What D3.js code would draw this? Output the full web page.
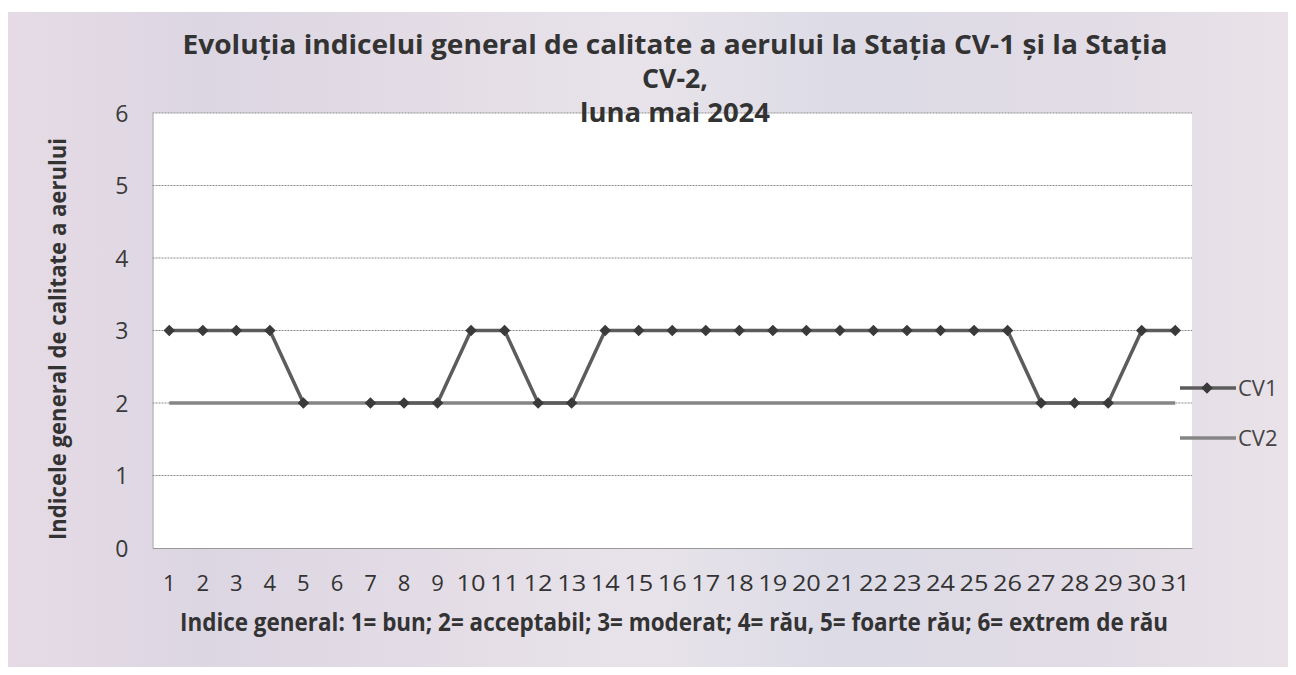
<!DOCTYPE html>
<html><head><meta charset="utf-8">
<script src="https://cdn.jsdelivr.net/npm/d3@7"></script>
<style>body{margin:0;background:#fff;}svg{display:block;}</style>
</head><body>
<svg id="c" width="1296" height="675"></svg>
<script>
const days = d3.range(1, 32).map(String);
const cv1 = [3,3,3,3,2,null,2,2,2,3,3,2,2,3,3,3,3,3,3,3,3,3,3,3,3,3,2,2,2,3,3];
const cv2 = [2,2,2,2,2,2,2,2,2,2,2,2,2,2,2,2,2,2,2,2,2,2,2,2,2,2,2,2,2,2,2];
const yTicks = [0,1,2,3,4,5,6];
const titleLines = ["Evoluția indicelui general de calitate a aerului la Stația CV-1  și la Stația","CV-2,","luna mai 2024"];
const xTitle = "Indice general: 1= bun; 2= acceptabil; 3= moderat; 4= rău, 5= foarte rău; 6= extrem de rău";
const yTitle = "Indicele general  de calitate a aerului";
const seriesNames = ["CV1","CV2"];

const FONT = "'Open Sans', Lato, sans-serif";
const svg = d3.select("#c");
const defs = svg.append("defs");
const g1 = defs.append("linearGradient").attr("id","bg").attr("x1","0").attr("x2","1").attr("y1","0").attr("y2","0");
[["0%","#e6dbe5"],["15%","#dcd6e3"],["35%","#e4dde6"],["50%","#e8e3ea"],["65%","#dcdbe6"],["85%","#e2dce6"],["100%","#e9e2e8"]].forEach(s=>g1.append("stop").attr("offset",s[0]).attr("stop-color",s[1]));
svg.append("rect").attr("x",8).attr("y",12).attr("width",1280).attr("height",655).attr("fill","url(#bg)");

const L=152.5, R=1192, T=113, B=548;
const x = d3.scaleBand().domain(days).range([L,R]);
const y = d3.scaleLinear().domain([0,6]).range([B,T]);

svg.append("rect").attr("x",L).attr("y",T).attr("width",R-L).attr("height",B-T).attr("fill","#fff");

// gridlines
svg.append("g").selectAll("line").data(yTicks.filter(d=>d>0)).join("line")
  .attr("x1",L).attr("x2",R).attr("y1",d=>y(d)).attr("y2",d=>y(d))
  .attr("stroke","#8a8a8a").attr("stroke-width",1).attr("stroke-dasharray","2,1");

// axes
const ya = svg.append("g").attr("transform",`translate(${L},0)`)
  .call(d3.axisLeft(y).tickValues(yTicks).tickFormat(d3.format("d")).tickSize(0).tickPadding(24));
ya.select(".domain").attr("stroke","#999");
ya.selectAll("text").attr("font-family",FONT).attr("font-size",23).attr("fill","#3a3a3a").attr("dy","0.36em");
const xa = svg.append("g").attr("transform",`translate(0,${B})`)
  .call(d3.axisBottom(x).tickSize(0).tickPadding(0));
xa.select(".domain").attr("stroke","#999");
xa.selectAll("text").attr("font-family",FONT).attr("font-size",22).attr("fill","#333").attr("dy",0).attr("y",43)
  .attr("textLength",d=>d.length>1?29:null).attr("lengthAdjust","spacingAndGlyphs");

const cx = d => x(d) + x.bandwidth()/2;
const line = d3.line().defined(d=>d.v!=null).x(d=>cx(d.day)).y(d=>y(d.v));

svg.append("path").datum(days.map((d,i)=>({day:d,v:cv2[i]})))
  .attr("d",line).attr("fill","none").attr("stroke","#858585").attr("stroke-width",3.5);
svg.append("path").datum(days.map((d,i)=>({day:d,v:cv1[i]})))
  .attr("d",line).attr("fill","none").attr("stroke","#5c5c5c").attr("stroke-width",3.5);
const diamond = d3.symbol().type(d3.symbolDiamond2).size(85);
svg.append("g").selectAll("path").data(days.map((d,i)=>({day:d,v:cv1[i]})).filter(d=>d.v!=null)).join("path")
  .attr("transform",d=>`translate(${cx(d.day)},${y(d.v)})`).attr("d",diamond).attr("fill","#3a3a3a");

// title
const tBase=[54,88,122], tLen=[985,66,190];
svg.append("g").selectAll("text").data(titleLines).join("text")
  .attr("x",675).attr("y",(d,i)=>tBase[i]).attr("text-anchor","middle")
  .attr("font-family",FONT).attr("font-weight","bold").attr("font-size",27).attr("fill","#333")
  .attr("textLength",(d,i)=>tLen[i]).attr("lengthAdjust","spacingAndGlyphs")
  .text(d=>d);

svg.append("text").attr("x",674).attr("y",631).attr("text-anchor","middle")
  .attr("font-family",FONT).attr("font-weight","bold").attr("font-size",25).attr("fill","#333")
  .attr("textLength",988).attr("lengthAdjust","spacingAndGlyphs").text(xTitle);

svg.append("text").attr("transform","translate(66,339) rotate(-90)").attr("text-anchor","middle")
  .attr("font-family",FONT).attr("font-weight","bold").attr("font-size",24).attr("fill","#333")
  .attr("textLength",402).attr("lengthAdjust","spacingAndGlyphs").text(yTitle);

// legend
const lg = svg.append("g").selectAll("g").data(seriesNames).join("g")
  .attr("transform",(d,i)=>`translate(1180,${388+i*50})`);
lg.append("line").attr("x1",0).attr("x2",56).attr("stroke",(d,i)=>i?"#858585":"#5c5c5c").attr("stroke-width",3.5);
lg.filter((d,i)=>i===0).append("path").attr("transform","translate(27,0)").attr("d",diamond).attr("fill","#3a3a3a");
lg.append("text").attr("x",58).attr("y",8).attr("font-family",FONT).attr("font-size",22).attr("fill","#444").text(d=>d);
</script>
</body></html>
